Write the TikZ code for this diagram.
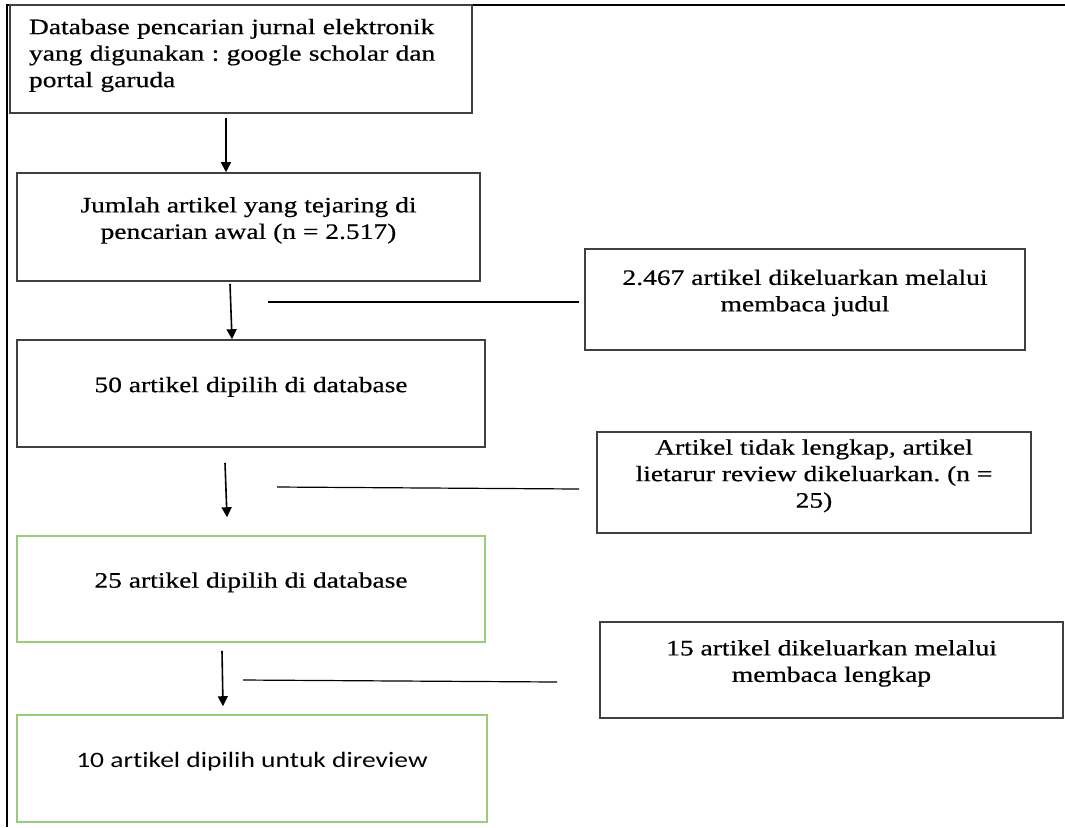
\documentclass[tikz,border=0pt]{standalone}
\usepackage{fontspec}
\setmainfont{Liberation Serif}[FakeStretch=1.25,FakeBold=0.6]
\newfontfamily\calibrifont{Carlito}[FakeStretch=1.25,Ligatures=CommonOff]
\usetikzlibrary{arrows.meta}
\definecolor{FlowGray}{HTML}{404040}
\definecolor{FlowGreen}{HTML}{9CCB7C}
\frenchspacing

\begin{document}
\begin{tikzpicture}[x=0.5pt,y=-0.5pt,
  box/.style={draw=FlowGray,line width=0.8pt,align=center,inner sep=0pt,
    font=\fontsize{11}{13.25}\selectfont,
    execute at end node={\rule[-#1]{0pt}{0pt}}},
  box/.default=9pt,
  gbox/.style={box,draw=FlowGreen},
  arr/.style={-{Triangle[length=5pt,width=5pt]},line width=0.8pt},
  side/.style={line width=0.6pt}]
  \useasboundingbox (0,0) rectangle (1065,827);
  \draw[line width=1pt] (1065,5) -- (7,5) -- (7,827);
  % main column
  \node[box=6pt,text width=212pt,align=left,minimum width=231pt,
    minimum height=54pt] (db) at (241,59)
    {Database pencarian jurnal elektronik\\
     yang digunakan : google scholar dan\\
     portal garuda};
  \node[box,minimum width=231.5pt,minimum height=54pt] (hit) at (248.5,227)
    {Jumlah artikel yang tejaring di\\ pencarian awal (n = 2.517)};
  \node[box,minimum width=234pt,minimum height=53.5pt] (s50) at (251,393.5)
    {50 artikel dipilih di database};
  \node[gbox,minimum width=234pt,minimum height=53pt] (s25) at (251,589)
    {25 artikel dipilih di database};
  \node[gbox,minimum width=235pt,minimum height=53.5pt,
    font=\calibrifont\fontsize{11}{13.25}\selectfont] (fin) at (252,768.5)
    {10 artikel dipilih untuk direview};
  % excluded
  \node[box,minimum width=220pt,minimum height=50.5pt] (x1) at (805,299.5)
    {2.467 artikel dikeluarkan melalui\\ membaca judul};
  \node[box,minimum width=217pt,minimum height=50.5pt] (x2) at (814,482.5)
    {Artikel tidak lengkap, artikel\\ lietarur review dikeluarkan. (n =\\ 25)};
  \node[box,minimum width=231.5pt,minimum height=48pt] (x3) at (831.5,670)
    {15 artikel dikeluarkan melalui\\ membaca lengkap};
  \draw[arr] ([xshift=-7.5pt,yshift=-2pt]db.south) -- ([xshift=-11.25pt]hit.north);
  \draw[arr] ([xshift=-9.25pt,yshift=-1pt]hit.south) -- ([xshift=-9.5pt]s50.north);
  \draw[arr] ([xshift=-13pt,yshift=-7.5pt]s50.south) -- ([xshift=-12pt,yshift=9pt]s25.north);
  \draw[arr] ([xshift=-14.5pt,yshift=-4pt]s25.south) -- ([xshift=-14.5pt,yshift=4pt]fin.north);
  \coordinate (j1) at (268,302);
  \coordinate (j2) at (277,487);
  \coordinate (j3) at (243,680);
  \draw[side] (j1) -- ([xshift=-2.5pt]j1 -| x1.west);
  \draw[side] (j2) -- ([xshift=-8.5pt,yshift=-1pt]j2 -| x2.west);
  \draw[side] (j3) -- ([xshift=-21pt,yshift=-1pt]j3 -| x3.west);
\end{tikzpicture}
\end{document}
